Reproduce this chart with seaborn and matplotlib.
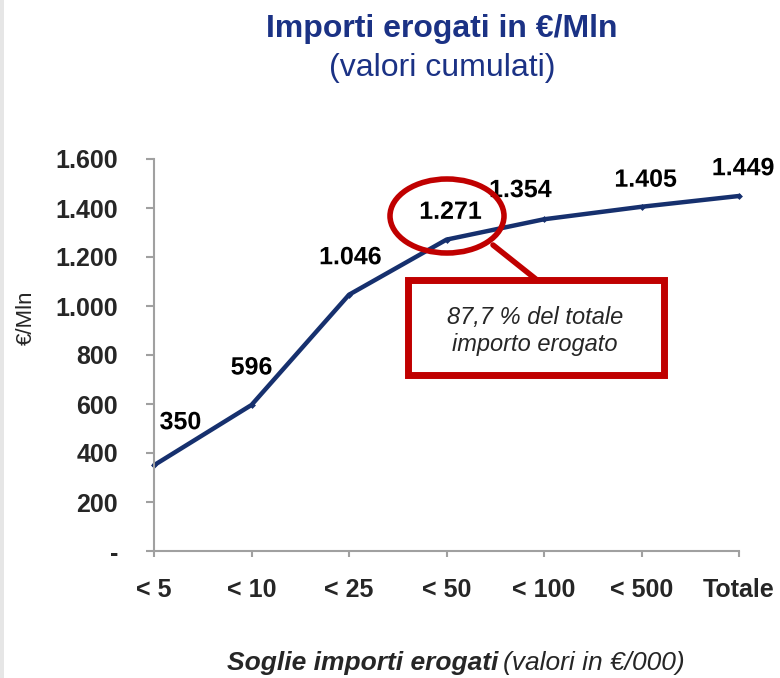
import matplotlib
matplotlib.use("Agg")
import matplotlib.pyplot as plt
import matplotlib.patheffects as pe
from matplotlib.patches import Ellipse, Rectangle
import seaborn as sns
import pandas as pd

categories = ["< 5", "< 10", "< 25", "< 50", "< 100", "< 500", "Totale"]
values = [350, 596, 1046, 1271, 1354, 1405, 1449]
value_labels = ["350", "596", "1.046", "1.271", "1.354", "1.405", "1.449"]
y_ticks = [0, 200, 400, 600, 800, 1000, 1200, 1400, 1600]
y_tick_labels = ["-", "200", "400", "600", "800", "1.000", "1.200", "1.400", "1.600"]

sns.set_style("white")
plt.rcParams['font.family'] = ['Liberation Sans', 'DejaVu Sans']

df = pd.DataFrame({"pos": range(len(categories)), "val": values})

fig = plt.figure(figsize=(7.8, 6.78), dpi=100)
ax = fig.add_axes([154/780, 1-551/678, (739-154)/780, (551-159)/678])

navy = "#16306e"
sns.lineplot(data=df, x="pos", y="val", ax=ax, color=navy, linewidth=3.2,
             marker="D", markersize=3.5, markeredgewidth=0, clip_on=False)

ax.set_xlim(0, 6)
ax.set_ylim(0, 1600)
ax.set_xticks(range(len(categories)))
ax.set_xticklabels(categories, fontsize=18, fontweight="bold")
ax.set_yticks(y_ticks)
ax.set_yticklabels(y_tick_labels, fontsize=18, fontweight="bold")
ax.tick_params(axis="y", direction="out", length=6, width=1.5, color="#a0a0a0", pad=20, left=True)
ax.tick_params(axis="x", direction="out", length=4.5, width=1.5, color="#a0a0a0", pad=15, bottom=True)
for s in ["top", "right"]:
    ax.spines[s].set_visible(False)
for s in ["left", "bottom"]:
    ax.spines[s].set_color("#a0a0a0")
    ax.spines[s].set_linewidth(1.5)
ax.set_xlabel("")
ax.set_ylabel("")

# data labels (offsets in points)
offsets = [(19, 31), (0, 27), (1, 27), (3, 20), (-17, 21), (3, 19.5), (3, 20)]
for i, (v, lab) in enumerate(zip(values, value_labels)):
    ax.annotate(lab, (i, v), xytext=offsets[i], textcoords="offset points",
                ha="center", va="center", fontsize=18, fontweight="bold", color="black",
                path_effects=[pe.withStroke(linewidth=3, foreground="white")], zorder=5)

# figure-level decorations (pixel coords -> figure fraction)
def fx(x): return x / 780
def fy(y): return 1 - y / 678

fig.text(fx(442), fy(29), "Importi erogati in €/Mln", ha="center", va="center",
         fontsize=23, fontweight="bold", color="#1b3285")
fig.text(fx(442), fy(68), "(valori cumulati)", ha="center", va="center",
         fontsize=23, color="#1b3285")

fig.text(fx(26), fy(318), "€/Mln", rotation=90, ha="center", va="center", fontsize=16)

fig.text(fx(498), fy(663), "Soglie importi erogati", ha="right", va="center",
         fontsize=19, fontstyle="italic", fontweight="bold")
fig.text(fx(503), fy(663), "(valori in €/000)", ha="left", va="center",
         fontsize=19, fontstyle="italic")

red = "#c00000"
ell = Ellipse((fx(447), fy(216)), 114/780, 74/678, transform=fig.transFigure,
              fill=False, edgecolor=red, linewidth=4, zorder=6)
fig.add_artist(ell)
fig.add_artist(plt.Line2D([fx(493), fx(537)], [fy(245), fy(280)], transform=fig.transFigure,
                          color=red, linewidth=4, zorder=6))
box = Rectangle((fx(408), fy(375)), 256/780, 95/678, transform=fig.transFigure,
                facecolor="white", edgecolor=red, linewidth=5, zorder=6)
fig.add_artist(box)
fig.text(fx(535), fy(331), "87,7 % del totale\nimporto erogato", ha="center", va="center",
         fontsize=17, fontstyle="italic", linespacing=1.25, zorder=7)

# light gray left border
fig.add_artist(Rectangle((0, 0), 4/780, 1, transform=fig.transFigure,
                         facecolor="#e6e6e6", edgecolor="none"))

fig.savefig("out.png", dpi=100)
